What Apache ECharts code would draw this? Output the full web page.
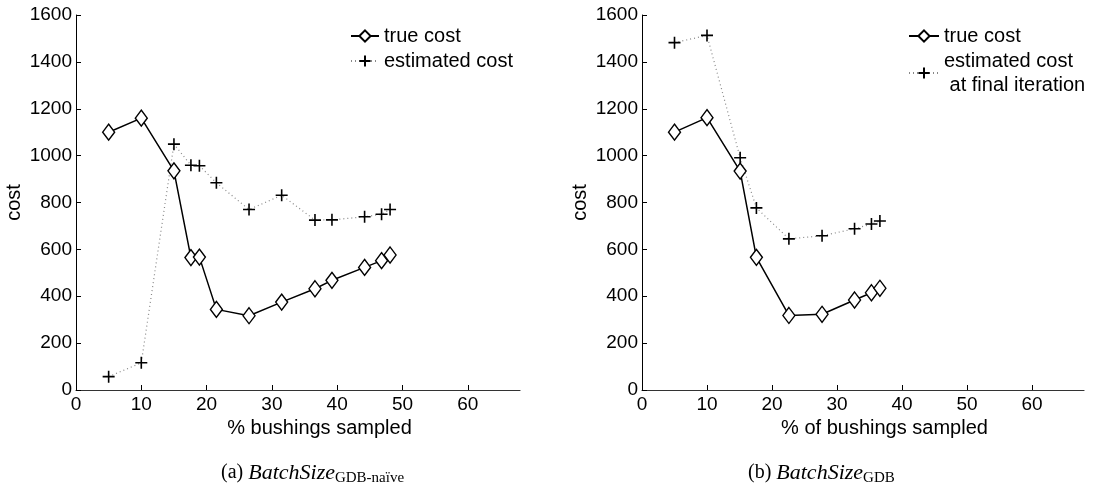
<!DOCTYPE html>
<html>
<head>
<meta charset="utf-8">
<script src="https://cdn.jsdelivr.net/npm/echarts@6/dist/echarts.min.js"></script>
<style>
html,body{margin:0;padding:0;background:#fff;}
#c{width:1117px;height:487px;}
</style>
</head>
<body>
<div id="c"></div>
<script>
// ---- data ----
const xTicks = [0, 10, 20, 30, 40, 50, 60];
const yTicks = [0, 200, 400, 600, 800, 1000, 1200, 1400, 1600];

// (a) BatchSize GDB-naive
const aPct      = [5, 10, 15, 17.6, 18.9, 21.5, 26.5, 31.5, 36.6, 39.2, 44.2, 46.8, 48.1];
const aTrue     = [1100, 1160, 935, 565, 567, 344, 317, 375, 432, 468, 523, 552, 576];
const aEstimate = [57, 116, 1049, 959, 957, 884, 770, 831, 725, 726, 739, 750, 770];

// (b) BatchSize GDB
const bPct      = [5, 10, 15.1, 17.6, 22.6, 27.7, 32.7, 35.3, 36.6];
const bTrue     = [1100, 1162, 934, 566, 318, 323, 384, 415, 434];
const bEstimate = [1482, 1513, 991, 777, 645, 658, 688, 708, 721];

const nameTrue = 'true cost';
const nameEstA = 'estimated cost';
const nameEstB = 'estimated cost\n at final iteration';
const xNameA = '% bushings sampled';
const xNameB = '% of bushings sampled';
const yName = 'cost';

// ---- chart ----
const pair = (xs, ys) => xs.map((x, i) => [x, ys[i]]);
const FONT = 'Liberation Sans';
const SERIF = 'Liberation Serif';
const plusPath = 'path://M5,0L5,10M0,5L10,5';

function xAxis(gridIndex, name) {
  return {
    type: 'value', gridIndex, min: 0, max: 68, interval: 10,
    name, nameLocation: 'middle', nameGap: 26,
    nameTextStyle: {fontFamily: FONT, fontSize: 20, color: '#000', padding: [0, 0, 0, 43]},
    axisLine: {show: true, lineStyle: {color: '#333', width: 1.2}},
    axisTick: {show: true, inside: true, length: 5, customValues: xTicks, lineStyle: {color: '#000'}},
    axisLabel: {fontFamily: FONT, fontSize: 19, color: '#000', margin: 5, customValues: xTicks,
      formatter: v => String(v)},
    splitLine: {show: false}
  };
}
function yAxis(gridIndex) {
  return {
    type: 'value', gridIndex, min: 0, max: 1600, interval: 200,
    name: yName, nameLocation: 'middle', nameGap: 52,
    nameTextStyle: {fontFamily: FONT, fontSize: 20, color: '#000'},
    axisLine: {show: true, lineStyle: {color: '#000', width: 1}},
    axisTick: {show: true, inside: true, length: 5, lineStyle: {color: '#000'}},
    axisLabel: {fontFamily: FONT, fontSize: 19, color: '#000', margin: 4,
      customValues: yTicks, formatter: v => String(v)},
    splitLine: {show: false}
  };
}
function trueSeries(idx, xs, ys) {
  return {
    type: 'line', name: nameTrue, xAxisIndex: idx, yAxisIndex: idx,
    data: pair(xs, ys),
    symbol: 'diamond', symbolSize: [12, 16],
    itemStyle: {color: '#fff', borderColor: '#000', borderWidth: 1.4},
    lineStyle: {color: '#000', width: 1.5, type: 'solid'},
    emphasis: {disabled: true}, z: 3
  };
}
function estSeries(idx, name, xs, ys) {
  return {
    type: 'line', name, xAxisIndex: idx, yAxisIndex: idx,
    data: pair(xs, ys),
    symbol: plusPath, symbolSize: 12,
    itemStyle: {color: 'rgba(0,0,0,0)', borderColor: '#000', borderWidth: 1.6},
    lineStyle: {color: '#888', width: 1.2, type: [1, 3]},
    emphasis: {disabled: true}, z: 2
  };
}
function caption(left, letter, sub) {
  return {
    text: '{n|(' + letter + ') }{i|BatchSize}{s|' + sub + '}',
    left, top: 455,
    textStyle: {
      rich: {
        n: {fontFamily: SERIF, fontSize: 20, fontWeight: 'normal', color: '#000', lineHeight: 26},
        i: {fontFamily: SERIF, fontSize: 22, fontStyle: 'italic', fontWeight: 'normal', color: '#000', lineHeight: 26},
        s: {fontFamily: SERIF, fontSize: 15, fontWeight: 'normal', color: '#000', lineHeight: 26, verticalAlign: 'bottom'}
      }
    }
  };
}

const chart = echarts.init(document.getElementById('c'), null, {renderer: 'canvas'});
chart.setOption({
  animation: false,
  backgroundColor: '#fff',
  title: [caption(216, 'a', 'GDB-naïve'), caption(743, 'b', 'GDB')],
  grid: [
    {left: 76, top: 15, width: 444, height: 375},
    {left: 642, top: 15, width: 442, height: 375}
  ],
  xAxis: [xAxis(0, xNameA), xAxis(1, xNameB)],
  yAxis: [yAxis(0), yAxis(1)],
  legend: [
    {data: [nameTrue, nameEstA], orient: 'vertical', left: 350, top: 24, padding: 0,
     itemWidth: 28, itemHeight: 14, itemGap: 1, selectedMode: false,
     textStyle: {fontFamily: FONT, fontSize: 20, color: '#000', lineHeight: 24}},
    {data: [nameTrue, nameEstB], orient: 'vertical', left: 908, top: 24, padding: 0,
     itemWidth: 30, itemHeight: 14, itemGap: 1, selectedMode: false,
     textStyle: {fontFamily: FONT, fontSize: 20, color: '#000', lineHeight: 24}}
  ],
  series: [
    trueSeries(0, aPct, aTrue),
    estSeries(0, nameEstA, aPct, aEstimate),
    trueSeries(1, bPct, bTrue),
    estSeries(1, nameEstB, bPct, bEstimate)
  ]
});
</script>
</body>
</html>
